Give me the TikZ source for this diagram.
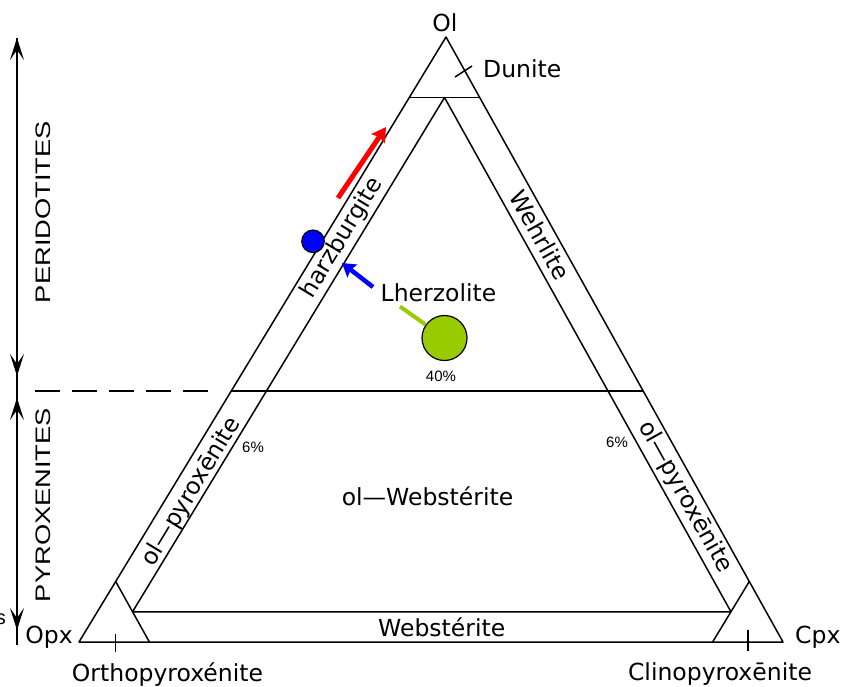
\documentclass[tikz,border=0pt]{standalone}
\usepackage{fontspec}
\usepackage{graphicx}
\setmainfont{DejaVu Sans}
\newfontfamily\labelsans{Liberation Sans}
\usetikzlibrary{arrows.meta}
\definecolor{lzgreen}{HTML}{99CC00}
\tikzset{
  edge/.style={line width=1.5pt, line join=round},
  rocklabel/.style={font=\fontsize{23.5}{26}\selectfont, inner sep=0pt},
  pct/.style={font=\labelsans\fontsize{15}{17}\selectfont, inner sep=0pt},
  groupname/.style={font=\labelsans\fontsize{21}{24}\selectfont, inner sep=0pt, rotate=90},
  axhead/.style={edge, -{Stealth[length=22pt,width=14pt,inset=10pt]}},
}
\begin{document}
\begin{tikzpicture}[x=1pt,y=-1pt]
\useasboundingbox (0,0) rectangle (854,687);

% ternary apices
\coordinate (ol)  at (446,37);
\coordinate (opx) at (79,642);
\coordinate (cpx) at (783,642);

% classification lines
\coordinate (dunL) at (barycentric cs:ol=0.9,opx=0.1);
\coordinate (dunR) at (barycentric cs:ol=0.9,cpx=0.1);
\coordinate (inTop) at (barycentric cs:ol=0.9,opx=0.05,cpx=0.05);
\coordinate (inL) at (barycentric cs:ol=0.05,opx=0.9,cpx=0.05);
\coordinate (inR) at (barycentric cs:ol=0.05,opx=0.05,cpx=0.9);
\coordinate (opxA) at (barycentric cs:ol=0.1,opx=0.9);
\coordinate (opxB) at (barycentric cs:opx=0.9,cpx=0.1);
\coordinate (cpxA) at (barycentric cs:ol=0.1,cpx=0.9);
\coordinate (cpxB) at (barycentric cs:opx=0.1,cpx=0.9);
\coordinate (midL) at (barycentric cs:ol=0.415,opx=0.585);
\coordinate (midR) at (barycentric cs:ol=0.415,cpx=0.585);

\draw[edge] (ol) -- (opx) -- (cpx) -- cycle;
\draw[edge] (dunL) -- (dunR);
\draw[edge] (inL) -- (inTop) -- (inR) -- cycle;
\draw[edge] (opxA) -- (opxB);
\draw[edge] (cpxA) -- (cpxB);
\draw[edge] (midL) -- (midR);

% peridotite / pyroxenite boundary, extended to the left
\coordinate (dashL) at (35,391);
\coordinate (dashR) at (208,391);
\draw[edge, dash pattern=on 25pt off 12pt] (dashL) -- (dashR);

% ticks under the corner fields
\coordinate (tkOa) at (115.5,634); \coordinate (tkOb) at (115.5,652);
\coordinate (tkCa) at (748,630);   \coordinate (tkCb) at (748,651);
\draw[edge] (tkOa) -- (tkOb);
\draw[edge] (tkCa) -- (tkCb);

% leader to the dunite field
\coordinate (dunTa) at (455,77); \coordinate (dunTb) at (472,66);
\draw[edge] (dunTa) -- (dunTb);

% vertical group axis
\coordinate (axTop) at (17,38);
\coordinate (axBot) at (17,645);
\coordinate (axPerDown) at (17,376);
\coordinate (axPyrUp) at (17,398);
\coordinate (axPyrDown) at (17,630);
\draw[edge] (axTop) -- (axBot);
\draw[axhead] (17,70) -- (axTop);
\draw[axhead] (17,340) -- (axPerDown);
\draw[axhead] (17,430) -- (axPyrUp);
\draw[axhead] (17,600) -- (axPyrDown);

\node[groupname] (perid) at (43,212) {\scalebox{1.3}[1]{PERIDOTITES}};
\node[groupname] (pyrox) at (43,505) {\scalebox{1.3}[1]{PYROXENITES}};
\node[font=\labelsans\fontsize{20}{22}\selectfont, anchor=base east, inner sep=0pt] (sfrag) at (6,624) {s};

% apex and field labels
\node[rocklabel, anchor=base] (olLbl) at (445,31.5) {Ol};
\node[rocklabel, anchor=base west] (dunLbl) at (483,78) {Dunite};
\node[rocklabel, anchor=base east] (opxLbl) at (73,643) {Opx};
\node[rocklabel, anchor=base west] (cpxLbl) at (795,643) {Cpx};
\node[rocklabel, anchor=base] (orthoLbl) at (167.5,681.5) {Orthopyroxénite};
\node[rocklabel, anchor=base] (clinoLbl) at (720,680.5) {Clinopyroxēnite};
\node[rocklabel, anchor=base] (olwebLbl) at (427.5,505) {ol—Webstérite};
\node[rocklabel, anchor=base] (webLbl) at (441.7,636) {Webstérite};
\node[rocklabel, rotate=58.8] (harzLbl) at (342,238) {harzburgite};
\node[rocklabel, rotate=-60.9] (wehrLbl) at (540,235) {Wehrlite};
\node[rocklabel, rotate=58.8] (olpxL) at (191.5,492) {ol—pyroxēnite};
\node[rocklabel, rotate=-60.9] (olpxR) at (685,497) {ol—pyroxēnite};

\node[pct] (p6L) at (253,447) {6\%};
\node[pct] (p6R) at (617,442) {6\%};
\node[pct] (p40) at (441,376) {40\%};

% sample markers
\node[rocklabel, anchor=base] (lherz) at (438.5,301.7) {Lherzolite};
\node[circle, draw, line width=1.2pt, fill=lzgreen, minimum size=45pt, inner sep=0pt] (lzdot) at (444.5,338) {};
\node[circle, draw, line width=1.2pt, fill=blue, minimum size=22.5pt, inner sep=0pt] (hzdot) at (313,241.3) {};

\coordinate (lzLead) at (400,306.5);
\draw[lzgreen, line width=4pt] (lzLead) -- (lzdot);

\coordinate (blueFrom) at (373,287);
\coordinate (blueTip) at (342,263);
\draw[blue, line width=4.5pt, -{Stealth[length=13pt,width=16pt,inset=2pt]}] (blueFrom) -- (blueTip);

\coordinate (redFrom) at (338,198);
\coordinate (redTip) at (386,127);
\draw[red, line width=5pt, -{Stealth[length=14pt,width=16pt,inset=2pt]}] (redFrom) -- (redTip);
\end{tikzpicture}
\end{document}
